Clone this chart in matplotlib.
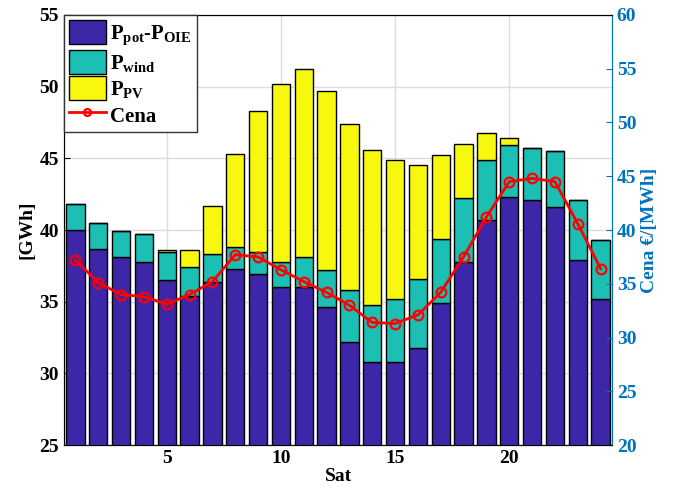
import matplotlib
matplotlib.use("Agg")
import matplotlib.pyplot as plt
import numpy as np
from matplotlib.patches import Patch
from matplotlib.lines import Line2D

# Hourly energy mix [GWh] and price [EUR/MWh]
hours = list(range(1, 25))
p_base = [40.0, 38.7, 38.1, 37.8, 36.5, 35.4, 36.4, 37.3, 36.9, 36.0, 36.0, 34.6,
          32.2, 30.8, 30.8, 31.8, 34.9, 37.8, 40.7, 42.3, 42.1, 41.6, 37.9, 35.2]
p_wind = [1.8, 1.8, 1.8, 1.9, 2.0, 2.0, 1.9, 1.5, 1.6, 1.8, 2.1, 2.6,
          3.6, 4.0, 4.4, 4.8, 4.5, 4.4, 4.2, 3.6, 3.6, 3.9, 4.2, 4.1]
p_pv = [0.0, 0.0, 0.0, 0.0, 0.1, 1.2, 3.4, 6.5, 9.8, 12.4, 13.1, 12.5,
        11.6, 10.8, 9.7, 7.9, 5.8, 3.8, 1.9, 0.5, 0.0, 0.0, 0.0, 0.0]
cena = [37.2, 35.1, 34.0, 33.8, 33.1, 34.0, 35.2, 37.7, 37.5, 36.3, 35.2, 34.2,
        33.0, 31.4, 31.3, 32.1, 34.2, 37.5, 41.2, 44.5, 44.8, 44.5, 40.6, 36.4]
left_ticks = [25, 30, 35, 40, 45, 50, 55]
right_ticks = [20, 25, 30, 35, 40, 45, 50, 55, 60]
x_ticks = [5, 10, 15, 20]

plt.rcParams['font.family'] = ['Liberation Serif', 'DejaVu Serif']
plt.rcParams['font.weight'] = 'bold'
plt.rcParams['mathtext.fontset'] = 'custom'
plt.rcParams['mathtext.rm'] = 'Liberation Serif:bold'
plt.rcParams['mathtext.it'] = 'Liberation Serif:bold'
plt.rcParams['mathtext.bf'] = 'Liberation Serif:bold'

c_base = '#3E26A8'
c_wind = '#1BBFB3'
c_pv = '#F8F80F'
c_right = '#0072BD'

fig = plt.figure(figsize=(6.79, 4.98), dpi=100)
ax = fig.add_axes([0.0943, 0.1064, 0.8070, 0.8635])

x = np.array(hours)
base = np.array(p_base)
wind = np.array(p_wind)
pv = np.array(p_pv)
bw = 0.8
ax.bar(x, base, bw, color=c_base, edgecolor='black', linewidth=1.0, zorder=2)
ax.bar(x, wind, bw, bottom=base, color=c_wind, edgecolor='black', linewidth=1.0, zorder=2)
ax.bar(x, pv, bw, bottom=base + wind, color=c_pv, edgecolor='black', linewidth=1.0, zorder=2)

ax.set_xlim(0.5, 24.5)
ax.set_ylim(25, 55)
ax.set_yticks(left_ticks)
ax.set_xticks(x_ticks)
ax.grid(True, color='#dddddd', linewidth=1.0, zorder=0)
ax.set_axisbelow(True)
ax.tick_params(axis='both', direction='in', labelsize=14, length=4, width=0.8)
for lbl in ax.get_xticklabels() + ax.get_yticklabels():
    lbl.set_fontweight('bold')
ax.set_xlabel('Sat', fontsize=14, fontweight='bold', labelpad=1)
ax.set_ylabel('[GWh]', fontsize=14, fontweight='bold', labelpad=3)
for s in ax.spines.values():
    s.set_color('#262626')
    s.set_linewidth(0.8)

ax2 = ax.twinx()
ax2.plot(x, cena, color='#FF0000', linewidth=2.0, marker='o', markersize=7,
         markerfacecolor='none', markeredgecolor='#FF0000', markeredgewidth=1.6, zorder=3)
ax2.set_ylim(20, 60)
ax2.set_yticks(right_ticks)
ax2.tick_params(axis='y', direction='in', labelsize=14, colors=c_right, length=4, width=0.8)
for lbl in ax2.get_yticklabels():
    lbl.set_fontweight('bold')
ax2.set_ylabel('Cena €/[MWh]', fontsize=14, fontweight='bold', color=c_right, labelpad=3)
ax2.spines['right'].set_color(c_right)
ax2.spines['right'].set_linewidth(0.8)

handles = [
    Patch(facecolor=c_base, edgecolor='black', linewidth=1.0),
    Patch(facecolor=c_wind, edgecolor='black', linewidth=1.0),
    Patch(facecolor=c_pv, edgecolor='black', linewidth=1.0),
    Line2D([], [], color='#FF0000', linewidth=2.0, marker='o', markersize=5,
           markerfacecolor='none', markeredgecolor='#FF0000', markeredgewidth=1.6),
]
labels = [r'P$_{\mathrm{pot}}$-P$_{\mathrm{OIE}}$', r'P$_{\mathrm{wind}}$',
          r'P$_{\mathrm{PV}}$', 'Cena']
leg = ax2.legend(handles, labels, loc='upper left', fontsize=15, frameon=True,
                 fancybox=False, edgecolor='#333333', framealpha=1.0,
                 borderaxespad=0.0, handlelength=1.75, handleheight=1.4,
                 handletextpad=0.2, borderpad=0.25, labelspacing=0.12)
leg.get_frame().set_linewidth(1.0)
leg.set_zorder(10)

fig.savefig('out.png', dpi=100)
